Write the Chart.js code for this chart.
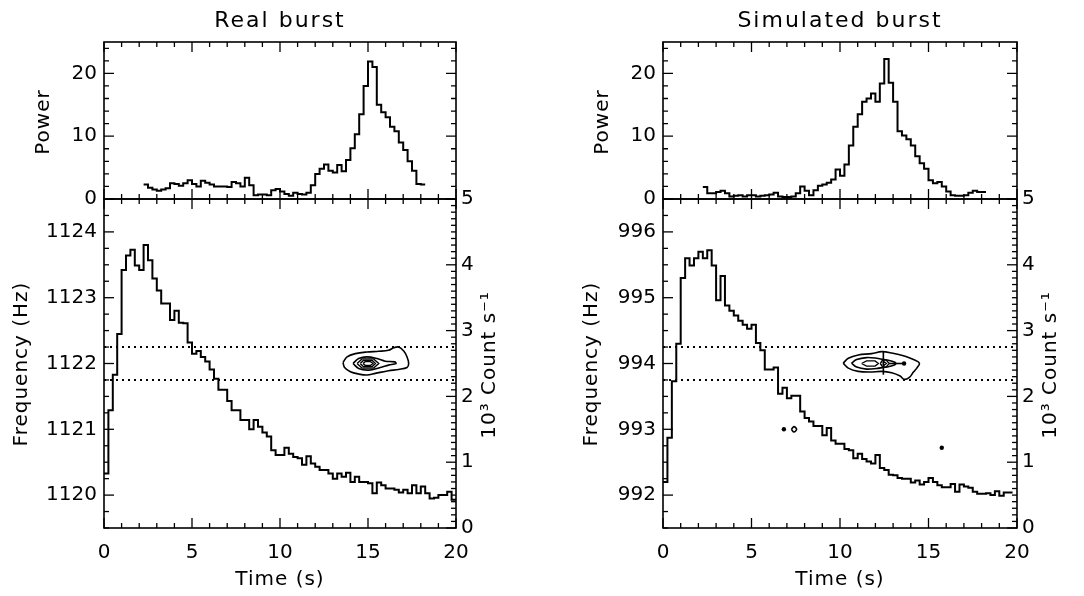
<!DOCTYPE html>
<html>
<head>
<meta charset="utf-8">
<script src="https://cdn.jsdelivr.net/npm/chart.js@4.4.1/dist/chart.umd.min.js"></script>
<style>
  html, body { margin: 0; background: #fff; }
  #wrap { position: relative; width: 1084px; height: 596px; }
  #wrap canvas { position: absolute; left: 0; top: 0; }
</style>
</head>
<body>
<div id="wrap">
  <canvas id="realPower" width="1084" height="596"></canvas>
  <canvas id="realFreq" width="1084" height="596"></canvas>
  <canvas id="simPower" width="1084" height="596"></canvas>
  <canvas id="simFreq" width="1084" height="596"></canvas>
</div>
<script>
// ---- data ----
const binWidth = 0.25;            // s, light curve and power bins
const timeTicks = [0, 5, 10, 15, 20];
const powerTicks = [0, 10, 20];
const countTicks = [0, 1, 2, 3, 4, 5];
const freqTicksReal = [1120, 1121, 1122, 1123, 1124];
const freqTicksSim = [992, 993, 994, 995, 996];

// 10^3 count/s, 0.25 s bins from t = 0
const countReal = [
  0.83, 1.79, 2.33, 2.95, 3.92, 4.14, 4.23, 3.99, 3.92, 4.30,
  4.07, 3.79, 3.61, 3.41, 3.41, 3.16, 3.30, 3.12, 3.11, 2.82,
  2.65, 2.69, 2.60, 2.53, 2.41, 2.27, 2.10, 2.10, 1.93, 1.79,
  1.79, 1.64, 1.64, 1.50, 1.64, 1.54, 1.45, 1.39, 1.18, 1.11,
  1.11, 1.22, 1.13, 1.08, 1.06, 0.96, 1.09, 0.98, 0.93, 0.88,
  0.88, 0.83, 0.75, 0.83, 0.78, 0.84, 0.70, 0.78, 0.70, 0.70,
  0.68, 0.53, 0.69, 0.65, 0.60, 0.60, 0.58, 0.54, 0.58, 0.53,
  0.65, 0.53, 0.63, 0.53, 0.45, 0.46, 0.50, 0.50, 0.55, 0.43
];
const countSim = [
  0.70, 1.37, 2.23, 2.80, 3.80, 4.10, 3.99, 4.10, 4.20, 4.10,
  4.22, 3.99, 3.46, 3.83, 3.38, 3.30, 3.23, 3.15, 3.09, 3.03,
  3.09, 2.81, 2.70, 2.41, 2.41, 2.44, 2.04, 2.13, 1.97, 2.01,
  2.01, 1.77, 1.67, 1.62, 1.55, 1.55, 1.41, 1.52, 1.33, 1.28,
  1.28, 1.20, 1.18, 1.06, 1.13, 1.05, 1.01, 0.98, 1.11, 0.91,
  0.88, 0.81, 0.80, 0.76, 0.75, 0.75, 0.69, 0.72, 0.66, 0.70,
  0.76, 0.70, 0.65, 0.62, 0.62, 0.67, 0.55, 0.66, 0.63, 0.61,
  0.55, 0.52, 0.52, 0.53, 0.50, 0.56, 0.49, 0.54, 0.54
];

// power at the burst frequency, 0.25 s bins from t = 2.25
const powerStart = 2.25;
const powerReal = [
  2.3, 1.8, 1.5, 1.3, 1.5, 1.7, 2.5, 2.4, 2.1, 2.5, 3.0, 2.4,
  2.0, 2.9, 2.6, 2.3, 2.0, 2.0, 2.0, 1.9, 2.7, 2.5, 2.0, 3.4,
  2.2, 0.6, 0.7, 0.7, 0.6, 1.4, 1.6, 1.2, 0.8, 0.5, 1.0, 0.8,
  0.7, 1.0, 2.2, 4.0, 4.8, 5.5, 4.5, 4.2, 5.4, 4.4, 6.2, 8.1,
  10.3, 13.5, 18.0, 21.9, 21.0, 15.0, 13.8, 13.0, 11.5, 10.8, 9.0, 7.8,
  6.0, 4.5, 2.4, 2.3
];
const powerSim = [
  1.9, 0.9, 0.9, 1.1, 1.3, 0.9, 0.4, 0.5, 0.6, 0.4, 0.6, 0.6,
  0.4, 0.5, 0.6, 0.7, 1.0, 0.4, 0.3, 0.3, 0.4, 0.9, 2.0, 1.3,
  0.6, 1.4, 2.1, 2.3, 2.6, 3.1, 4.7, 3.7, 5.5, 8.5, 11.5, 13.5,
  15.5, 16.0, 16.8, 15.5, 18.4, 22.3, 18.5, 15.5, 10.8, 10.1, 9.5, 8.5,
  6.8, 5.7, 4.8, 3.0, 2.5, 2.7, 2.0, 1.2, 0.6, 0.5, 0.5, 0.6,
  1.0, 1.3, 1.1, 1.1
];

// dotted frequency band (Hz)
const bandReal = [1121.75, 1122.25];
const bandSim = [993.75, 994.25];

// power contours, [time s, frequency Hz]
const contoursReal = [
  [[13.58, 1122.015], [13.81, 1122.10], [14.28, 1122.15], [14.94, 1122.175], [15.61, 1122.185],
   [16.17, 1122.20], [16.46, 1122.24], [16.74, 1122.25], [17.03, 1122.19], [17.22, 1122.10],
   [17.31, 1122.0], [17.22, 1121.94], [16.74, 1121.91], [16.17, 1121.89], [15.42, 1121.85],
   [14.94, 1121.825], [14.47, 1121.84], [14.0, 1121.875], [13.67, 1121.94]],
  [[14.15, 1122.0], [14.47, 1122.075], [14.94, 1122.10], [15.51, 1122.075], [15.98, 1122.035],
   [16.52, 1122.025], [16.59, 1122.0], [16.17, 1121.975], [15.70, 1121.94], [15.04, 1121.90],
   [14.47, 1121.925]]
];
const innerReal = [
  [[14.38, 1122.0], [14.66, 1122.07], [15.32, 1122.07], [15.61, 1122.0], [15.32, 1121.93], [14.66, 1121.93]],
  [[14.56, 1122.0], [14.75, 1122.05], [15.23, 1122.05], [15.42, 1122.0], [15.23, 1121.95], [14.75, 1121.95]],
  [[14.72, 1122.0], [14.85, 1122.03], [15.13, 1122.03], [15.28, 1122.0], [15.13, 1121.97], [14.85, 1121.97]]
];
const contoursSim = [
  [[10.18, 994.005], [10.47, 994.08], [11.03, 994.13], [11.79, 994.15], [12.36, 994.18],
   [12.92, 994.16], [13.68, 994.11], [14.15, 994.06], [14.49, 994.005], [14.34, 993.93],
   [14.15, 993.87], [13.92, 993.79], [13.62, 993.76], [13.40, 993.81], [12.92, 993.86],
   [12.36, 993.88], [11.69, 993.87], [11.03, 993.88], [10.47, 993.93]],
  [[10.65, 994.005], [10.94, 994.06], [11.50, 994.09], [12.07, 994.08], [12.45, 994.06],
   [12.73, 994.05], [13.10, 994.02], [13.15, 994.0], [13.10, 993.98], [12.73, 993.95],
   [12.45, 993.94], [12.07, 993.925], [11.50, 993.915], [10.94, 993.945]],
  [[7.25, 993.0], [7.40, 993.04], [7.55, 993.0], [7.40, 992.96]]
];
const innerSim = [
  [[11.22, 994.0], [11.50, 994.04], [11.98, 994.04], [12.17, 994.0], [11.98, 993.96], [11.50, 993.96]],
  [[12.28, 994.0], [12.40, 994.05], [12.60, 994.055], [12.78, 994.0], [12.60, 993.945], [12.40, 993.95]],
  [[12.42, 994.0], [12.50, 994.025], [12.62, 994.0], [12.50, 993.975]]
];
const strokesSim = [
  [[12.45, 994.18], [12.45, 993.83]],
  [[12.78, 994.0], [13.62, 994.0]]
];
const dotsSim = [[13.62, 994.0], [6.83, 993.0], [15.75, 992.72]];

// ---- helpers ----
const W = 1084, H = 596;
const FONT = '"DejaVu Sans", sans-serif';
Chart.defaults.font.family = FONT;
Chart.defaults.font.size = 20;
Chart.defaults.color = '#000';

function steps(values, t0) {
  const pts = values.map((v, i) => ({ x: t0 + i * binWidth, y: v }));
  pts.push({ x: t0 + values.length * binWidth, y: values[values.length - 1] });
  return pts;
}
const xy = arr => arr.map(([x, y]) => ({ x, y }));
const loop = arr => xy(arr.concat([arr[0]]));

function lineSet(data, extra) {
  return Object.assign({
    data, borderColor: '#000', borderWidth: 2, pointRadius: 0, fill: false, tension: 0
  }, extra);
}

// scale boxes get a fixed size so the plot area lands exactly where wanted
const AXW = 70, AXR = 40, AXB = 50;
const fitTo = size => s => { if (s.isHorizontal()) s.height = size; else s.width = size; };
function fixedTicks(values) {
  return s => { s.ticks = values.map(v => ({ value: v })); };
}
function axis(extra, ticks, size) {
  return Object.assign({
    type: 'linear',
    grid: { display: false, drawTicks: false },
    border: { display: false },
    afterFit: fitTo(size),
    afterBuildTicks: fixedTicks(ticks)
  }, extra);
}

// frame box plus inward major/minor ticks, placed through the chart scales
function frameTicks(specs) {
  return {
    id: 'frameTicks',
    afterDatasetsDraw(chart) {
      const { ctx, chartArea: a } = chart;
      ctx.save();
      ctx.strokeStyle = '#000';
      ctx.lineWidth = 1.6;
      ctx.strokeRect(a.left, a.top, a.right - a.left, a.bottom - a.top);
      ctx.lineWidth = 1.3;
      specs.forEach(({ scale, major, minor, sides }) => {
        const s = chart.scales[scale];
        const first = Math.ceil(s.min / minor - 1e-6);
        const last = Math.floor(s.max / minor + 1e-6);
        for (let k = first; k <= last; k++) {
          const v = k * minor;
          const r = v / major;
          const len = Math.abs(r - Math.round(r)) < 1e-6 ? 10 : 5;
          const p = s.getPixelForValue(v);
          ctx.beginPath();
          sides.forEach(side => {
            if (side === 'bottom') { ctx.moveTo(p, a.bottom); ctx.lineTo(p, a.bottom - len); }
            if (side === 'top') { ctx.moveTo(p, a.top); ctx.lineTo(p, a.top + len); }
            if (side === 'left') { ctx.moveTo(a.left, p); ctx.lineTo(a.left + len, p); }
            if (side === 'right') { ctx.moveTo(a.right, p); ctx.lineTo(a.right - len, p); }
          });
          ctx.stroke();
        }
      });
      ctx.restore();
    }
  };
}

function texts(items) {
  return {
    id: 'texts',
    afterDraw(chart) {
      const ctx = chart.ctx;
      items.forEach(it => {
        ctx.save();
        ctx.font = (it.size || 20) + 'px ' + FONT;
        ctx.letterSpacing = it.spacing || '0px';
        ctx.fillStyle = '#000';
        ctx.textAlign = 'center';
        ctx.textBaseline = 'middle';
        ctx.translate(it.x, it.y);
        if (it.rot) ctx.rotate(it.rot);
        ctx.fillText(it.text, 0, 0);
        ctx.restore();
      });
    }
  };
}

const plotTop = 42, plotMid = 199, plotBottom = 528;
const asText = v => String(v);

function makePanel(opt) {
  const { left, right, title, power, counts, freqTicks, band, contours, inner, strokes, dots, ids, freqTitleX } = opt;
  const cx = (left + right) / 2;
  const xMinor = { scale: 'x', major: 5, minor: 1, sides: ['top', 'bottom'] };

  new Chart(document.getElementById(ids[0]), {
    type: 'line',
    data: { datasets: [lineSet(steps(power, powerStart), { stepped: true, yAxisID: 'yp' })] },
    options: {
      responsive: false, animation: false, events: [],
      layout: { padding: { left: left - AXW, right: W - right, top: plotTop, bottom: H - plotMid } },
      plugins: { legend: { display: false }, tooltip: { enabled: false } },
      scales: {
        x: axis({ min: 0, max: 20, ticks: { display: false } }, timeTicks, 0),
        yp: axis({ position: 'left', min: 0, max: 25,
          ticks: { padding: 7, callback: asText } }, powerTicks, AXW)
      }
    },
    plugins: [
      frameTicks([xMinor, { scale: 'yp', major: 10, minor: 2, sides: ['left', 'right'] }]),
      texts([
        { text: title, x: cx, y: 21, size: 22, spacing: '2px' },
        { text: 'Power', x: left - 60, y: 122, rot: -Math.PI / 2, spacing: '1px' }
      ])
    ]
  });

  const datasets = [
    lineSet(steps(counts, 0), { stepped: true, yAxisID: 'yc' }),
    ...band.map(f => lineSet(xy([[0, f], [20, f]]), { yAxisID: 'yf', borderDash: [2, 4] })),
    ...contours.map(c => lineSet(loop(c), { yAxisID: 'yf', borderWidth: 1.6, tension: 0.35 })),
    ...inner.map(c => lineSet(loop(c), { yAxisID: 'yf', borderWidth: 1.4 })),
    ...strokes.map(c => lineSet(xy(c), { yAxisID: 'yf', borderWidth: 1.6 })),
    lineSet(xy(dots), { yAxisID: 'yf', showLine: false, pointRadius: 2.2,
      pointBackgroundColor: '#000', pointBorderWidth: 0 })
  ];

  new Chart(document.getElementById(ids[1]), {
    type: 'line',
    data: { datasets },
    options: {
      responsive: false, animation: false, events: [],
      layout: { padding: { left: left - AXW, right: W - right - AXR, top: plotMid, bottom: H - plotBottom - AXB } },
      plugins: { legend: { display: false }, tooltip: { enabled: false } },
      scales: {
        x: axis({ position: 'bottom', min: 0, max: 20,
          ticks: { padding: 13, maxRotation: 0, autoSkip: false, callback: asText } }, timeTicks, AXB),
        yf: axis({ position: 'left', min: freqTicks[0] - 0.5, max: freqTicks[freqTicks.length - 1] + 0.5,
          ticks: { padding: 7, callback: asText } }, freqTicks, AXW),
        yc: axis({ position: 'right', min: 0, max: 5,
          ticks: { padding: 5, callback: asText } }, countTicks, AXR)
      }
    },
    plugins: [
      frameTicks([
        xMinor,
        { scale: 'yf', major: 1, minor: 0.25, sides: ['left'] },
        { scale: 'yc', major: 1, minor: 0.1, sides: ['right'] }
      ]),
      texts([
        { text: 'Frequency (Hz)', x: freqTitleX, y: 364, rot: -Math.PI / 2, spacing: '1px' },
        { text: '10³ Count s⁻¹', x: right + 34, y: 365, rot: -Math.PI / 2, spacing: '1px' },
        { text: 'Time (s)', x: cx, y: 580, spacing: '1px' }
      ])
    ]
  });
}

makePanel({
  ids: ['realPower', 'realFreq'], left: 104, right: 456, title: 'Real burst',
  power: powerReal, counts: countReal, freqTicks: freqTicksReal, band: bandReal,
  contours: contoursReal, inner: innerReal, strokes: [], dots: [], freqTitleX: 22
});
makePanel({
  ids: ['simPower', 'simFreq'], left: 663, right: 1017, title: 'Simulated burst',
  power: powerSim, counts: countSim, freqTicks: freqTicksSim, band: bandSim,
  contours: contoursSim, inner: innerSim, strokes: strokesSim, dots: dotsSim, freqTitleX: 592
});
</script>
</body>
</html>
